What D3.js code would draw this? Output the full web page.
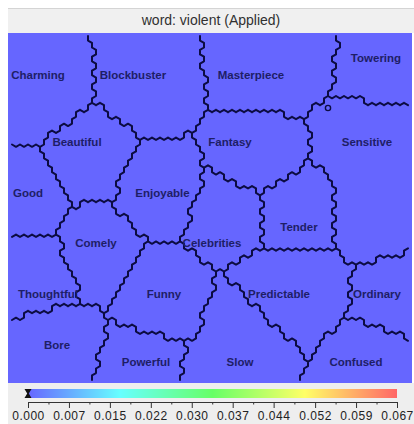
<!DOCTYPE html>
<html>
<head>
<meta charset="utf-8">
<script src="https://cdn.jsdelivr.net/npm/d3@7"></script>
<style>
  body { margin: 0; background: #ffffff; }
  svg { display: block; }
</style>
</head>
<body>
<script>
// ---- data -------------------------------------------------------------
const titleText = "word: violent (Applied)";

// cluster words of the map
const words = ["Charming", "Blockbuster", "Masterpiece", "Towering",
  "Beautiful", "Fantasy", "Sensitive", "Good", "Enjoyable", "Tender",
  "Comely", "Celebrities", "Thoughtful", "Funny", "Predictable", "Ordinary",
  "Bore", "Powerful", "Slow", "Confused"];

// prototype nodes of each cluster (index into words, map units; map is 404 x 350)
const protoCluster = [0, 1, 2, 2, 3, 4, 5, 6, 6, 7, 8, 9, 10, 11, 12, 13, 14, 14, 15, 16, 17, 18, 18, 19];
const protoX = [32, 142, 250, 292, 364, 80, 247, 357, 367, 18, 152, 289, 88, 219, 30, 156, 292, 264, 392, 47, 133, 238, 214, 372];
const protoY = [59, 51, 39, 17, 29, 124, 122, 107, 182, 167, 159, 182, 217, 182, 239, 262, 250, 264, 267, 315, 339, 290, 350, 329];

// label node of each word (map units)
const labelX = [30, 125, 243, 368, 69, 222, 359, 20, 154.5, 291,
  88, 204, 40, 156, 271, 369, 49, 138, 232, 348];
const labelY = [42, 42, 42, 25, 109, 109, 109, 160, 160, 194,
  210, 210, 261, 261, 261, 261, 312, 328.5, 329, 329];

// node where the applied word lands
const hitX = [320];
const hitY = [75];

// applied value on every node of the map
const nodeValue = 0;

// colour bar
const valueMax = 0.0667;
const tickValues = [0, 0.0074, 0.0148, 0.0222, 0.0296, 0.0370, 0.0444, 0.0519, 0.0593, 0.0667];

const gridCols = 50, gridRows = 50;

// ---- layout -------------------------------------------------------------
const W = 414, H = 424;
const map = { x0: 8, x1: 412, y0: 33, y1: 383 };

const svg = d3.select("body").append("svg")
  .attr("width", W).attr("height", H)
  .style("font-family", "'Liberation Sans', Arial, sans-serif");

const color = d3.scaleLinear()
  .domain([0, valueMax])
  .range([d3.hsl(240, 1, 0.7), d3.hsl(0, 1, 0.7)])
  .interpolate(d3.interpolateHslLong);

// title bar
svg.append("rect").attr("x", 8).attr("y", 8).attr("width", W - 8).attr("height", map.y0 - 8)
  .attr("fill", "#f0f0f0");
svg.append("line").attr("x1", 8).attr("x2", W).attr("y1", 8.5).attr("y2", 8.5)
  .attr("stroke", "#d4d4d4");
svg.append("text")
  .attr("x", 211).attr("y", 25)
  .attr("text-anchor", "middle")
  .attr("font-size", 14)
  .attr("fill", "#303030")
  .text(titleText);

// map scales (map units -> pixels)
const sx = d3.scaleLinear().domain([0, 404]).range([map.x0, map.x1]);
const sy = d3.scaleLinear().domain([0, 350]).range([map.y0, map.y1]);

svg.append("defs").append("clipPath").attr("id", "mapclip")
  .append("rect").attr("x", map.x0).attr("y", map.y0)
  .attr("width", map.x1 - map.x0).attr("height", map.y1 - map.y0);

const mapG = svg.append("g").attr("clip-path", "url(#mapclip)");
mapG.append("rect").attr("x", map.x0).attr("y", map.y0)
  .attr("width", map.x1 - map.x0).attr("height", map.y1 - map.y0)
  .attr("fill", color(nodeValue));

// hexagonal node grid (pointy top, odd rows shifted right)
const hexW = (map.x1 - map.x0) / (gridCols + 0.5);
const hexR = hexW / Math.sqrt(3);
const rowStep = 1.5 * hexR;
const gridH = (gridRows - 1) * rowStep + 2 * hexR;
const cy0 = map.y0 + (map.y1 - map.y0 - gridH) / 2 + hexR;

const centre = (c, r) => [map.x0 + hexW * (c + 0.5 + (r % 2) * 0.5), cy0 + r * rowStep];
const corner = (c, r, k) => {
  const [x, y] = centre(c, r);
  const a = (60 * k - 90) * Math.PI / 180;
  return [x + hexR * Math.cos(a), y + hexR * Math.sin(a)];
};

// each node joins the cluster of its nearest prototype
const protos = protoCluster.map((k, i) => [sx(protoX[i]), sy(protoY[i]), k]);
const owner = [];
for (let r = 0; r < gridRows; r++) {
  owner.push([]);
  for (let c = 0; c < gridCols; c++) {
    const [x, y] = centre(c, r);
    const best = d3.minIndex(protos, p => (p[0] - x) ** 2 + (p[1] - y) ** 2);
    owner[r].push(protos[best][2]);
  }
}

// walls between nodes of different clusters
const walls = d3.path();
const addWall = (c, r, k) => {
  const p = corner(c, r, k), q = corner(c, r, (k + 1) % 6);
  walls.moveTo(p[0], p[1]);
  walls.lineTo(q[0], q[1]);
};
for (let r = 0; r < gridRows; r++) {
  for (let c = 0; c < gridCols; c++) {
    const odd = r % 2;
    const me = owner[r][c];
    if (c + 1 < gridCols && owner[r][c + 1] !== me) addWall(c, r, 1);
    if (r + 1 < gridRows) {
      const cr = c + odd, cl = c - 1 + odd;
      if (cr < gridCols && owner[r + 1][cr] !== me) addWall(c, r, 2);
      if (cl >= 0 && owner[r + 1][cl] !== me) addWall(c, r, 3);
    }
  }
}
mapG.append("path")
  .attr("d", walls.toString())
  .attr("fill", "none")
  .attr("stroke", "#0c0c42")
  .attr("stroke-width", 2)
  .attr("stroke-linecap", "round")
  .attr("stroke-linejoin", "round");

// word labels
mapG.selectAll("text.word").data(words).join("text")
  .attr("class", "word")
  .attr("x", (d, i) => sx(labelX[i]))
  .attr("y", (d, i) => sy(labelY[i]))
  .attr("dy", "0.35em")
  .attr("text-anchor", "middle")
  .attr("font-size", 11.5)
  .attr("font-weight", "bold")
  .attr("fill", "#1e1e66")
  .text(d => d);

// applied word marker
mapG.selectAll("circle.hit").data(hitX).join("circle")
  .attr("class", "hit")
  .attr("cx", d => sx(d))
  .attr("cy", (d, i) => sy(hitY[i]))
  .attr("r", 2.6)
  .attr("fill", "none")
  .attr("stroke", "#0c0c42")
  .attr("stroke-width", 1.4);

// ---- colour bar ----------------------------------------------------------
svg.append("rect").attr("x", 8).attr("y", map.y1).attr("width", W - 8).attr("height", H - map.y1)
  .attr("fill", "#eeeeee");

const bx = d3.scaleLinear().domain([0, valueMax]).range([28, 397]);
const grad = svg.select("defs").append("linearGradient").attr("id", "bar")
  .attr("x1", "0%").attr("x2", "100%");
d3.range(0, 1.0001, 0.05).forEach(t => {
  grad.append("stop").attr("offset", (t * 100) + "%").attr("stop-color", color(t * valueMax));
});
svg.append("rect").attr("x", bx(0)).attr("y", 389).attr("width", bx(valueMax) - bx(0)).attr("height", 9)
  .attr("fill", "url(#bar)");

// minor ticks
const minor = d3.range(tickValues.length - 1).map(i => (tickValues[i] + tickValues[i + 1]) / 2);
svg.append("g").attr("transform", "translate(0,402)")
  .call(d3.axisBottom(bx).tickValues(minor).tickSize(2.5).tickFormat(""))
  .call(g => g.select(".domain").remove())
  .selectAll("line").attr("stroke", "#333");

const axis = svg.append("g").attr("transform", "translate(0,402)")
  .call(d3.axisBottom(bx).tickValues(tickValues).tickSize(6).tickSizeOuter(0).tickPadding(3)
    .tickFormat(d3.format(".3f")));
axis.select(".domain").attr("stroke", "#333");
axis.selectAll("line").attr("stroke", "#333");
axis.selectAll("text")
  .attr("font-size", 12)
  .attr("letter-spacing", "0.5px")
  .attr("font-family", "'Liberation Sans', Arial, sans-serif")
  .attr("fill", "#222");

// current value marker on the bar
const mx = bx(nodeValue);
svg.append("path")
  .attr("d", d3.line()([[mx - 3.5, 389], [mx + 3.5, 389], [mx + 0.8, 393.5], [mx + 3.5, 398],
    [mx - 3.5, 398], [mx - 0.8, 393.5]]) + "Z")
  .attr("fill", "#111");
</script>
</body>
</html>
